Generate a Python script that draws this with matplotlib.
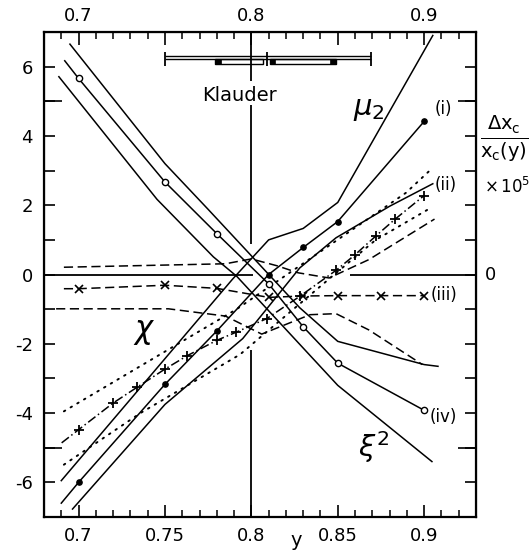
import numpy as np
import matplotlib
matplotlib.use("Agg")
import matplotlib.pyplot as plt
from matplotlib.ticker import MultipleLocator, FixedLocator
from matplotlib.patches import Rectangle

plt.rcParams["font.family"] = "DejaVu Sans"
plt.rcParams["mathtext.fontset"] = "dejavusans"
plt.rcParams["axes.unicode_minus"] = False

# curve (i): filled dots, solid band (upper band is the mu2 line)
i_x = [0.69, 0.70, 0.75, 0.78, 0.81, 0.83, 0.85, 0.90]
i_y = [-6.6, -6.0, -3.17, -1.63, 0.0, 0.78, 1.53, 4.42]
mu2_x = [0.69, 0.789, 0.81, 0.83, 0.85, 0.905]
mu2_y = [-5.95, -0.14, 1.0, 1.33, 2.08, 6.9]
i_lo_x = [0.6965, 0.75, 0.795, 0.828, 0.849, 0.88, 0.905]
i_lo_y = [-6.77, -3.75, -1.85, 0.19, 1.06, 1.97, 2.62]

# curve (iv): open circles, solid band (lower band is the xi^2 line)
iv_x = [0.692, 0.70, 0.75, 0.78, 0.81, 0.83, 0.85, 0.90]
iv_y = [6.17, 5.66, 2.67, 1.18, -0.27, -1.51, -2.56, -3.92]
iv_hi_x = [0.695, 0.75, 0.775, 0.828, 0.85, 0.90, 0.908]
iv_hi_y = [6.65, 3.2, 1.88, -0.96, -1.93, -2.6, -2.65]
xi2_x = [0.6886, 0.7454, 0.778, 0.7915, 0.85, 0.9045]
xi2_y = [5.71, 2.17, 0.51, -0.05, -3.2, -5.4]

# curve (iii): crosses, dashed band
iii_x = [0.6915, 0.70, 0.75, 0.78, 0.81, 0.83, 0.85, 0.875, 0.90]
iii_y = [-0.41, -0.41, -0.31, -0.40, -0.66, -0.62, -0.61, -0.61, -0.61]
iii_hi_x = [0.6915, 0.785, 0.80, 0.815, 0.827, 0.845, 0.868, 0.906]
iii_hi_y = [0.21, 0.31, 0.45, 0.25, 0.05, -0.1, 0.43, 1.6]
iii_lo_x = [0.687, 0.752, 0.785, 0.806, 0.822, 0.834, 0.849, 0.868, 0.899]
iii_lo_y = [-0.99, -0.99, -1.2, -1.72, -1.4, -1.16, -1.13, -1.6, -2.6]

# curve (ii): plus signs, dotted band
ii_x = [0.6902, 0.70, 0.72, 0.734, 0.75, 0.763, 0.78, 0.791, 0.809, 0.828,
        0.849, 0.86, 0.872, 0.883, 0.90]
ii_y = [-4.86, -4.48, -3.71, -3.25, -2.73, -2.34, -1.9, -1.67, -1.27, -0.63,
        0.12, 0.57, 1.11, 1.59, 2.28]
ii_hi_x = [0.6915, 0.7915, 0.8895, 0.903]
ii_hi_y = [-3.95, -1.0, 2.36, 2.99]
ii_lo_x = [0.6915, 0.7358, 0.7934, 0.848, 0.872, 0.903]
ii_lo_y = [-5.49, -4.0, -2.31, 0.0, 1.0, 1.9]

# Klauder estimate bar
kl_caps = [0.7498, 0.8088, 0.8693]
kl_lines_y = [6.31, 6.23]
kl_boxes = [(0.779, 0.807), (0.8107, 0.849)]
kl_solid = [(0.779, 0.7825), (0.8107, 0.8135), (0.8455, 0.849)]

fig = plt.figure(figsize=(5.29, 5.51), dpi=100)
ax = fig.add_axes([0.0832, 0.0617, 0.8166, 0.8802])

lw = 1.1
k = "black"

# solid families
ax.plot(i_x[1:], i_y[1:], "o", color=k, ms=3.8, zorder=4)
ax.plot(i_x, i_y, "-", color=k, lw=lw)
ax.plot(mu2_x, mu2_y, "-", color=k, lw=lw)
ax.plot(i_lo_x, i_lo_y, "-", color=k, lw=lw)

ax.plot(iv_x, iv_y, "-", color=k, lw=lw)
ax.plot(iv_x[1:], iv_y[1:], "o", color=k, mfc="white", ms=4.5, mew=1.0, zorder=4)
ax.plot(iv_hi_x, iv_hi_y, "-", color=k, lw=lw)
ax.plot(xi2_x, xi2_y, "-", color=k, lw=lw)

# dashed family
ax.plot(iii_x, iii_y, color=k, lw=lw, dashes=(6, 3))
ax.plot(iii_x[1:], iii_y[1:], "x", color=k, ms=5.5, mew=1.2, zorder=4)
ax.plot(iii_hi_x, iii_hi_y, color=k, lw=lw, dashes=(6, 3))
ax.plot(iii_lo_x, iii_lo_y, color=k, lw=lw, dashes=(6, 3))

# dash-dot / dotted family
ax.plot(ii_x, ii_y, color=k, lw=lw, dashes=(6, 2, 1, 2))
ax.plot(ii_x[1:], ii_y[1:], "+", color=k, ms=7, mew=1.3, zorder=4)
ax.plot(ii_hi_x, ii_hi_y, color=k, lw=1.4, dashes=(0.8, 3.2), dash_capstyle="round")
ax.plot(ii_lo_x, ii_lo_y, color=k, lw=1.4, dashes=(0.8, 3.2), dash_capstyle="round")

# reference lines
ax.hlines(0, 0.68, 0.801, color=k, lw=1.3)
ax.hlines(0, 0.857, 0.93, color=k, lw=1.3)
ax.vlines(0.8, 5.6, 7.0, color=k, lw=1.3)
ax.vlines(0.8, 0.87, 4.9, color=k, lw=1.3)
ax.vlines(0.8, -7.0, -2.17, color=k, lw=1.3)

# Klauder bar
ax.hlines(kl_lines_y, kl_caps[0], kl_caps[-1], color=k, lw=1.0)
ax.vlines(kl_caps, 6.03, 6.42, color=k, lw=1.3)
for x0, x1 in kl_boxes:
    ax.add_patch(Rectangle((x0, 6.08), x1 - x0, 6.23 - 6.08, fill=False,
                           ec=k, lw=1.0))
for x0, x1 in kl_solid:
    ax.add_patch(Rectangle((x0, 6.08), x1 - x0, 6.23 - 6.08, fc=k, ec=k, lw=0.5))

# annotations
ax.text(0.7929, 5.17, "Klauder", ha="center", va="center", fontsize=14)
ax.text(0.868, 4.77, r"$\mu_2$", ha="center", va="center", fontsize=21)
ax.text(0.7378, -1.66, r"$\chi$", ha="center", va="center", fontsize=22)
ax.text(0.8707, -4.97, r"$\xi^2$", ha="center", va="center", fontsize=21)
ax.text(0.906, 4.77, "(i)", ha="left", va="center", fontsize=12)
ax.text(0.906, 2.59, "(ii)", ha="left", va="center", fontsize=12)
ax.text(0.904, -0.59, "(iii)", ha="left", va="center", fontsize=12)
ax.text(0.903, -4.12, "(iv)", ha="left", va="center", fontsize=12)

ax.set_xlim(0.68, 0.93)
ax.set_ylim(-7, 7)

ax.xaxis.set_major_locator(FixedLocator([0.7, 0.75, 0.8, 0.85, 0.9]))
ax.set_xticklabels(["0.7", "0.75", "0.8", "0.85", "0.9"])
ax.xaxis.set_minor_locator(MultipleLocator(0.01))
ax.yaxis.set_major_locator(MultipleLocator(2))
ax.yaxis.set_minor_locator(MultipleLocator(1))
ax.tick_params(axis="x", which="major", direction="in", length=9, width=1.2,
               labelsize=13, pad=7)
ax.tick_params(axis="x", which="minor", direction="in", length=5, width=1.1)
ax.tick_params(axis="y", which="both", direction="in", length=8, width=1.2,
               right=True, labelsize=13, pad=8)

top = ax.secondary_xaxis("top")
top.xaxis.set_major_locator(FixedLocator([0.7, 0.75, 0.8, 0.85, 0.9]))
top.set_xticklabels(["0.7", "", "0.8", "", "0.9"])
top.xaxis.set_minor_locator(MultipleLocator(0.01))
top.tick_params(which="major", direction="in", length=9, width=1.2,
                labelsize=13, pad=5)
top.tick_params(which="minor", direction="in", length=5, width=1.1)

for side in ("left", "right"):
    sec = ax.secondary_yaxis(side)
    sec.set_yticks([-5, 5])
    sec.set_yticklabels(["", ""])
    sec.tick_params(direction="in", length=13, width=1.2)

for s in ax.spines.values():
    s.set_linewidth(1.6)

# right-hand axis annotation
ax.text(1.02, 0, "0", transform=ax.get_yaxis_transform(), ha="left",
        va="center", fontsize=13)
fig.text(0.953, 0.750, r"$\frac{\Delta\mathrm{x}_\mathrm{c}}{\mathrm{x}_\mathrm{c}\mathrm{(y)}}$",
         ha="center", va="center", fontsize=20)
fig.text(484 / 529, 0.661, r"$\times\,\mathrm{10}^\mathrm{5}$", ha="left",
         va="center", fontsize=12)
fig.text(296 / 529, 1 - 541 / 551, "y", ha="center", va="center", fontsize=14)

fig.savefig("out.png", dpi=100)
